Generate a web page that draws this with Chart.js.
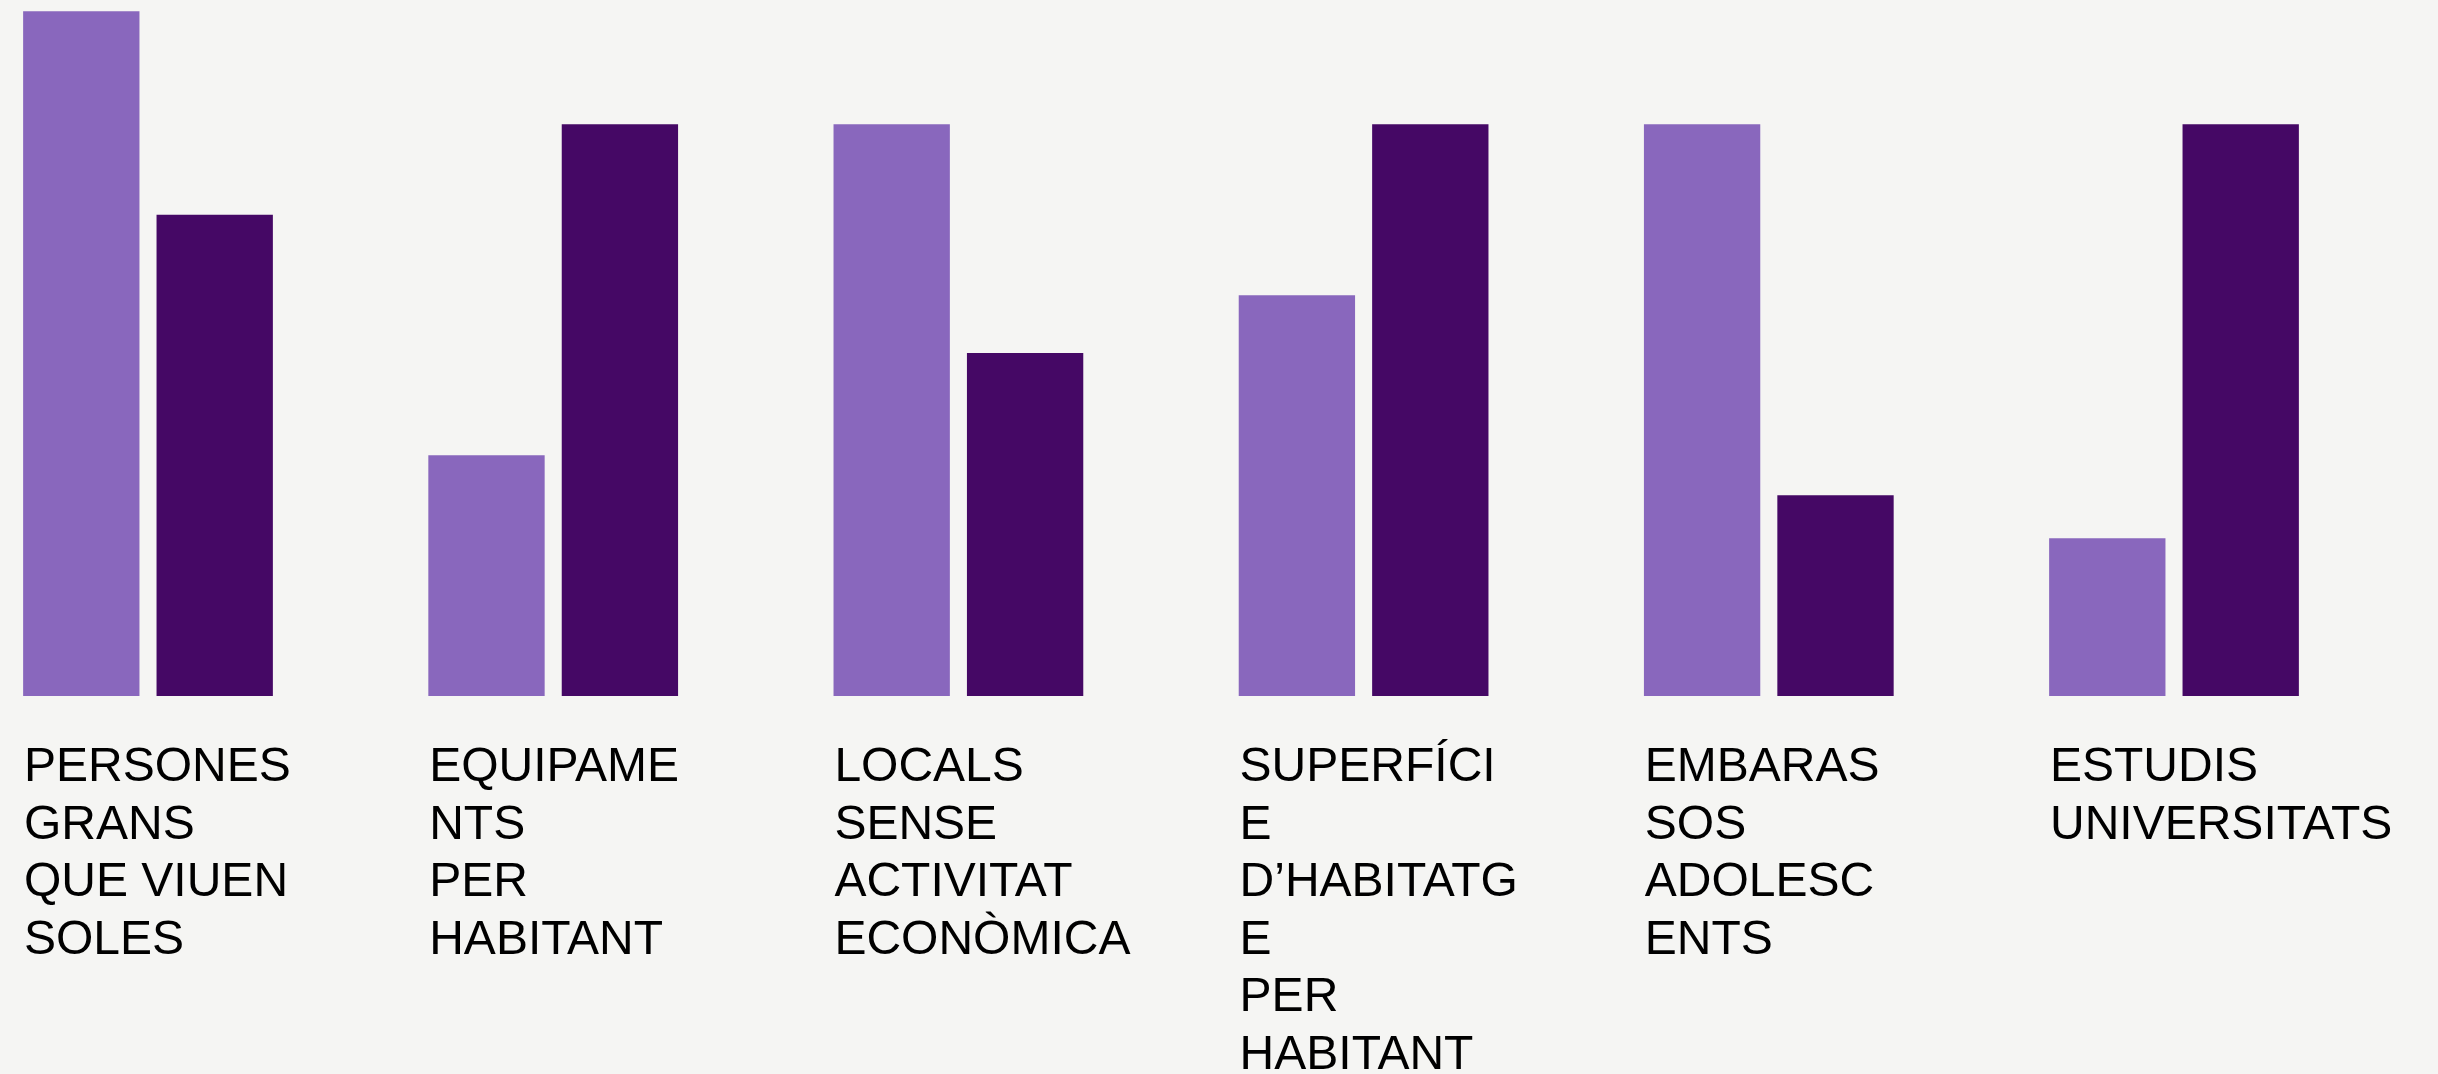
<!DOCTYPE html>
<html>
<head>
<meta charset="utf-8">
<script src="https://cdn.jsdelivr.net/npm/chart.js@4/dist/chart.umd.min.js"></script>
<style>
  html, body { margin: 0; padding: 0; background: #f5f5f3; overflow: hidden; }
  #wrap { width: 2438px; height: 1074px; position: relative; }
  canvas { display: block; }
</style>
</head>
<body>
<div id="wrap"><canvas id="c" width="2438" height="1074"></canvas></div>
<script>
// Categories (label lines as they wrap in the reference)
const categories = [
  ["PERSONES", "GRANS", "QUE VIUEN", "SOLES"],
  ["EQUIPAME", "NTS", "PER", "HABITANT"],
  ["LOCALS", "SENSE", "ACTIVITAT", "ECONÒMICA"],
  ["SUPERFÍCI", "E", "D’HABITATG", "E", "PER", "HABITANT"],
  ["EMBARAS", "SOS", "ADOLESC", "ENTS"],
  ["ESTUDIS", "UNIVERSITATS"]
];

// Series values (tallest regular bar = 100)
const seriesLight = [119.8, 42.1, 100, 70.1, 100, 27.6];
const seriesDark  = [84.2, 100, 60.0, 100, 35.1, 100];

const colorLight = "#8967bd";
const colorDark  = "#450865";

const ctx = document.getElementById("c").getContext("2d");
new Chart(ctx, {
  type: "bar",
  data: {
    labels: categories,
    datasets: [
      {
        label: "A",
        data: seriesLight,
        backgroundColor: colorLight,
        borderWidth: 0,
        categoryPercentage: 0.6585,
        barPercentage: 0.872,
        clip: false
      },
      {
        label: "B",
        data: seriesDark,
        backgroundColor: colorDark,
        borderWidth: 0,
        categoryPercentage: 0.6585,
        barPercentage: 0.872,
        clip: false
      }
    ]
  },
  options: {
    responsive: false,
    devicePixelRatio: 1,
    animation: false,
    layout: { padding: { left: 148, right: 264, top: 10, bottom: 0 } },
    plugins: {
      legend: { display: false },
      tooltip: { enabled: false }
    },
    scales: {
      x: {
        type: "category",
        offset: false,
        grid: { display: false, drawTicks: false },
        border: { display: false },
        ticks: {
          autoSkip: false,
          maxRotation: 0,
          minRotation: 0,
          align: "start",
          labelOffset: -124,
          padding: 43,
          color: "#000000",
          font: { family: "'Liberation Sans', Arial, sans-serif", size: 48, lineHeight: 1.2 }
        },
        afterFit: function (axis) {
          axis.paddingLeft = 0;
          axis.paddingRight = 0;
          axis.height = 378;
        }
      },
      y: {
        display: false,
        min: 0,
        max: 120
      }
    }
  }
});
</script>
</body>
</html>
